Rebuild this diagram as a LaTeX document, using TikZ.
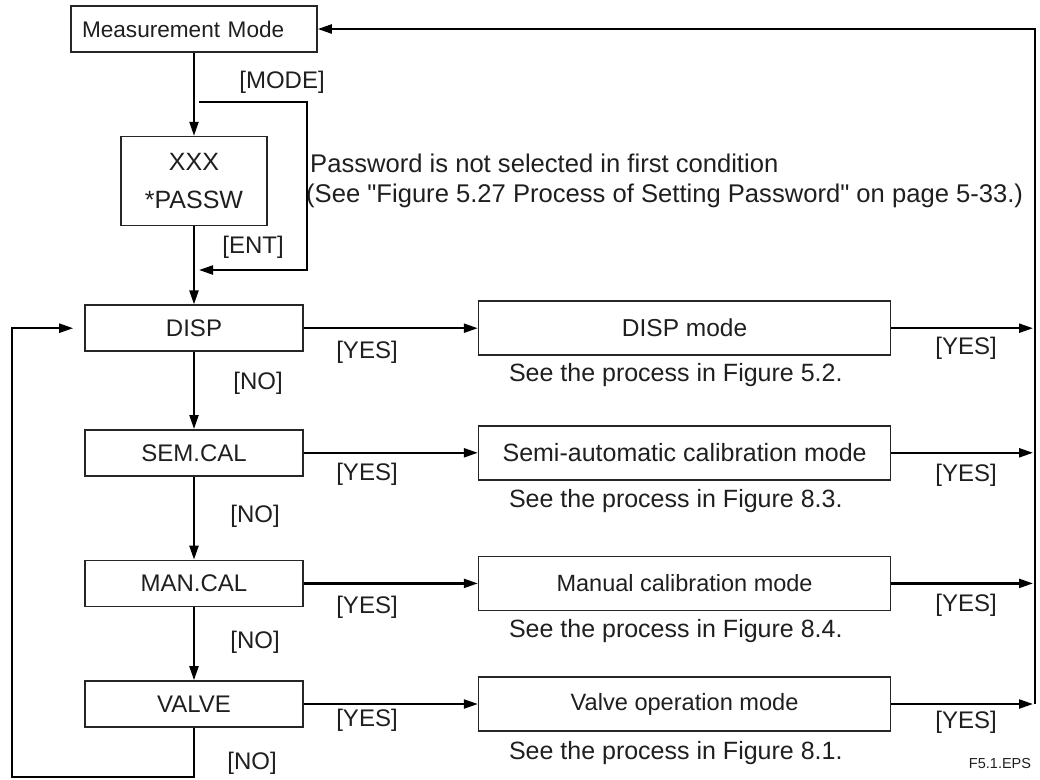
\documentclass[tikz,border=0pt]{standalone}
\usepackage{fontspec}
\setmainfont{Liberation Sans}
\usetikzlibrary{arrows.meta, positioning, calc}
\newcommand{\fsz}[1]{\fontsize{#1pt}{#1pt}\selectfont}
\tikzset{
  startbox/.style={rectangle, draw=black!85, line width=1.6pt,
    text width=224pt, align=left, inner xsep=11pt,
    minimum height=46pt, text=black!88, font=\fsz{22.6}},
  pwbox/.style={rectangle, draw=black!85, line width=1.6pt,
    minimum width=146pt, minimum height=89pt,
    align=center, text=black!88, font=\fsz{25}},
  keybox/.style={rectangle, draw=black!85, line width=1.6pt,
    minimum width=218pt, minimum height=46pt,
    text=black!88, font=\fsz{24}},
  modebox/.style={rectangle, draw=black!85, line width=1.6pt,
    minimum width=412pt, minimum height=54pt,
    text=black!88, font=\fsz{24.5}},
  seenote/.style={anchor=west, inner sep=0pt, text=black!88, font=\fsz{25}},
  lab/.style={inner sep=0pt, text=black!88, font=\fsz{24}},
  arr/.style={-{Triangle[length=14pt,width=9pt]}, line width=2.2pt},
  loopline/.style={line width=2.2pt},
}

\begin{document}
\begin{tikzpicture}[x=1pt, y=-1pt]
\useasboundingbox (0,0) rectangle (1040,779);

% left column
\node (meas) [startbox] at (194,29) {Measurement Mode};
\node (pw) [pwbox, below=83pt of meas] {XXX\\[13pt]*PASSW};
\node (disp) [keybox, below=78pt of pw] {DISP};
\node (semcal) [keybox, below=77pt of disp] {SEM.CAL};
\node (mancal) [keybox, below=83pt of semcal] {MAN.CAL};
\node (valve) [keybox, below=73pt of mancal] {VALVE};

% right column
\node (dispm) [modebox, right=174pt of disp] {DISP mode};
\node (semim) [modebox, right=174pt of semcal, font=\fsz{25}]
  {Semi-automatic calibration mode};
\node (manm) [modebox, right=174pt of mancal, font=\fsz{23.5}]
  {Manual calibration mode};
\node (valvem) [modebox, right=174pt of valve, font=\fsz{23.6}]
  {Valve operation mode};

\node (seedisp) [seenote] at ($(dispm.south west)+(31,19)$) {See the process in Figure 5.2.};
\node (seesemi) [seenote] at ($(semim.south west)+(31,20)$) {See the process in Figure 8.3.};
\node (seeman) [seenote] at ($(manm.south west)+(31,20)$) {See the process in Figure 8.4.};
\node (seevalve) [seenote] at ($(valvem.south west)+(31,21)$) {See the process in Figure 8.1.};

\node (pwnote1) [seenote, font=\fsz{25.6}] at (310,163)
  {Password is not selected in first condition};
\node (pwnote2) [seenote, font=\fsz{25.6}] at (306,196)
  {(See \textquotedbl Figure 5.27 Process of Setting Password\textquotedbl{} on page 5-33.)};

\node (fig) [lab, font=\fsz{14.5}] at (1000,763) {F5.1.EPS};

\coordinate (modejoin) at (199,102);
\coordinate (entjoin) at (199,270);
\coordinate (rline) at (1035,0);
\coordinate (rtip) at (1033,0);
\coordinate (lbot) at (12,777);

% main flow
\draw[arr] (pw.north |- meas.south) -- (pw.north);
\draw[arr] (pw.south) -- (disp.north);
\draw[arr] (disp.south) -- (semcal.north);
\draw[arr] (semcal.south) -- (mancal.north);
\draw[arr] (mancal.south) -- (valve.north);

\draw[arr] (modejoin) -- ++(108,0) |- (entjoin);

\draw[arr] (disp.east) -- (dispm.west);
\draw[arr] (semcal.east) -- (semim.west);
\draw[arr] (mancal.east) -- (manm.west);
\draw[arr] (valve.east) -- (valvem.west);

\draw[arr] (dispm.east) -- (dispm.east -| rtip);
\draw[arr] (semim.east) -- (semim.east -| rtip);
\draw[arr] (manm.east) -- (manm.east -| rtip);
\draw[arr] (valvem.east) -- (valvem.east -| rtip);
\draw[arr] (valvem.east -| rline) |- (meas.east);

\draw[arr] (valve.south) |- (lbot) |- ($(disp.west)+(-11,0)$);

% labels
\node (modelab) [lab] at (282,82) {[MODE]};
\node (entlab) [lab] at (253,247) {[ENT]};

\node (no1) [lab] at (258,383) {[NO]};
\node (no2) [lab] at (255,516) {[NO]};
\node (no3) [lab] at (255,642) {[NO]};
\node (no4) [lab] at (252,763) {[NO]};

\node (yes1) [lab] at (367,352) {[YES]};
\node (yes2) [lab] at (367,474) {[YES]};
\node (yes3) [lab] at (367,607) {[YES]};
\node (yes4) [lab] at (367,720) {[YES]};

\node (yes5) [lab] at (966,348) {[YES]};
\node (yes6) [lab] at (966,475) {[YES]};
\node (yes7) [lab] at (966,605) {[YES]};
\node (yes8) [lab] at (966,722) {[YES]};

\end{tikzpicture}
\end{document}
